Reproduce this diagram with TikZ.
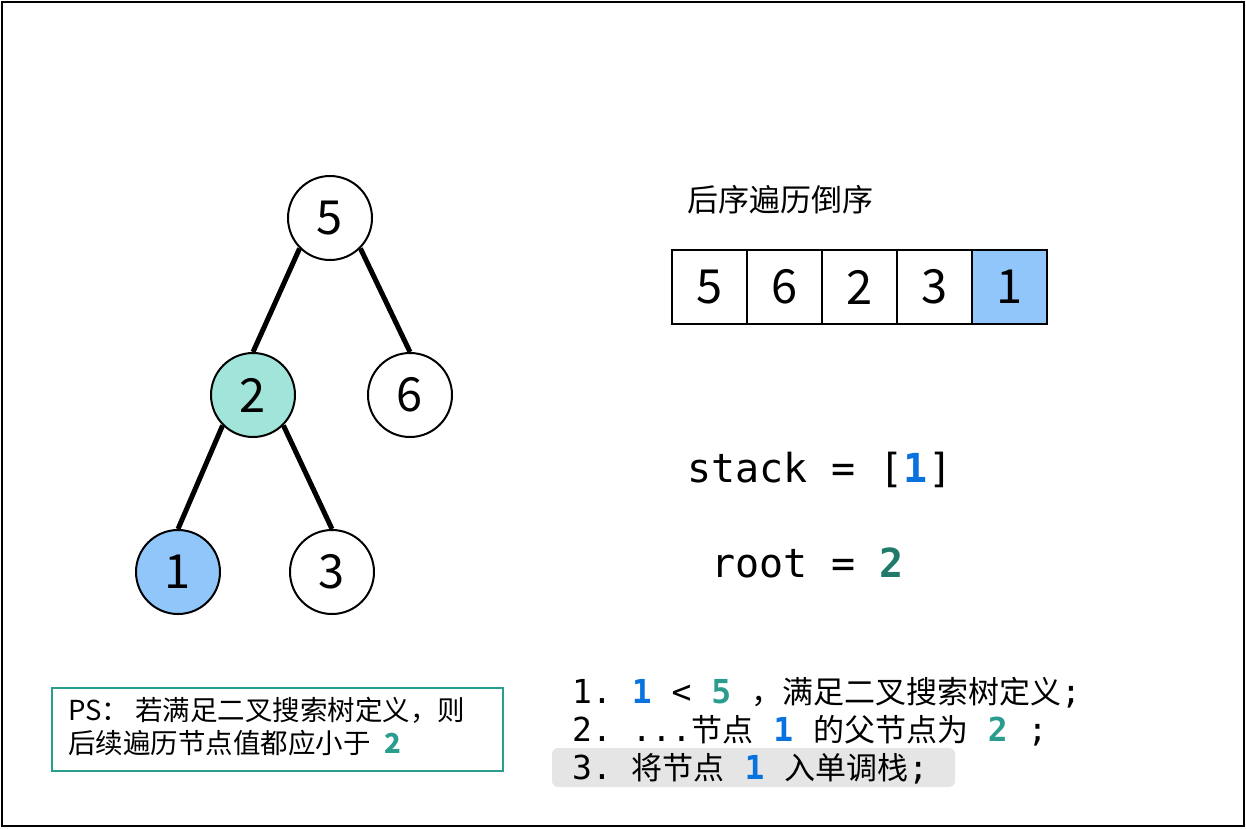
\documentclass[tikz,border=0pt]{standalone}
\usepackage{fontspec}
\setmainfont{Noto Sans CJK SC}
\newfontfamily\cjk{Noto Sans CJK SC}
\newfontfamily\mono{DejaVu Sans Mono}
\definecolor{cblue}{RGB}{8,115,222}
\definecolor{cteal}{RGB}{42,157,143}
\definecolor{croot}{RGB}{31,122,106}
\definecolor{fteal}{RGB}{160,228,218}
\definecolor{fblue}{RGB}{144,198,250}
\definecolor{cgray}{RGB}{229,229,229}
\newcommand\MM{\mono\fontsize{33}{38}\selectfont}
\newcommand\CC{\cjk\fontsize{31}{38}\selectfont}
\frenchspacing
\tikzset{
  tn/.style={circle, draw, line width=2pt, minimum size=84pt, inner sep=0pt, fill=white,
    font=\cjk\fontsize{47}{47}\selectfont},
  edge/.style={line width=5pt},
  cell/.style={draw, line width=2pt, minimum width=75pt, minimum height=74pt, inner sep=0pt,
    font=\cjk\fontsize{47}{47}\selectfont},
  line/.style={anchor=base west, inner sep=0pt},
}
\begin{document}
\begin{tikzpicture}[x=1pt,y=-1pt]
\useasboundingbox (0,0) rectangle (1246,828);
\draw[line width=2.5pt] (2,2) rectangle (1244,826);
% tree
\node[tn] (n5) at (330,218) {5};
\node[tn, fill=fteal] (n2) at (253,395) {2};
\node[tn] (n6) at (410,395) {6};
\node[tn, fill=fblue] (n1) at (178,572) {1};
\node[tn] (n3) at (332,572) {3};
\draw[edge] (n5.south west) -- (n2.north);
\draw[edge] (n5.south east) -- (n6.north);
\draw[edge] (n2.south west) -- (n1.north);
\draw[edge] (n2.south east) -- (n3.north);
% array
\node[anchor=base west, inner sep=0pt, font=\cjk\fontsize{31}{31}\selectfont] (title) at (687,211) {后序遍历倒序};
\node[cell] (a1) at (709.5,287) {5};
\node[cell] (a2) at (784.5,287) {6};
\node[cell] (a3) at (859.5,287) {2};
\node[cell] (a4) at (934.5,287) {3};
\node[cell, fill=fblue] (a5) at (1009.5,287) {1};
% stack / root
\node[line, font=\mono\fontsize{40}{40}\selectfont] (stk) at (687,482) {stack = [{\bfseries\color{cblue}1}]};
\node[line, font=\mono\fontsize{40}{40}\selectfont] (rt) at (711,577) {root = {\bfseries\color{croot}2}};
% steps
\node[fill=cgray, rounded corners=6pt, minimum width=403pt, minimum height=39pt, inner sep=0pt] (hl) at (753.5,767.5) {};
\node[line] (s1) at (572,703) {{\MM 1. {\bfseries\color{cblue}1} < {\bfseries\color{cteal}5} }{\CC ，满足二叉搜索树定义}{\MM ;}};
\node[line] (s2) at (572,741) {{\MM 2. ...}{\CC 节点}{\MM{} {\bfseries\color{cblue}1} }{\CC 的父节点为}{\MM{} {\bfseries\color{cteal}2} ;}};
\node[line] (s3) at (572,779) {{\MM 3. }{\CC 将节点}{\MM{} {\bfseries\color{cblue}1} }{\CC 入单调栈}{\MM ;}};
% PS box
\node[draw=cteal, line width=2pt, minimum width=451pt, minimum height=83pt, inner sep=0pt] (ps) at (277.5,729.5) {};
\node[line, font=\cjk\fontsize{27.5}{30}\selectfont] (p1) at (68,720) {PS： 若满足二叉搜索树定义，则};
\node[line, font=\cjk\fontsize{27.5}{30}\selectfont] (p2) at (68,753) {后续遍历节点值都应小于\hspace{14pt}{\bfseries\color{cteal}2}};
\end{tikzpicture}
\end{document}
